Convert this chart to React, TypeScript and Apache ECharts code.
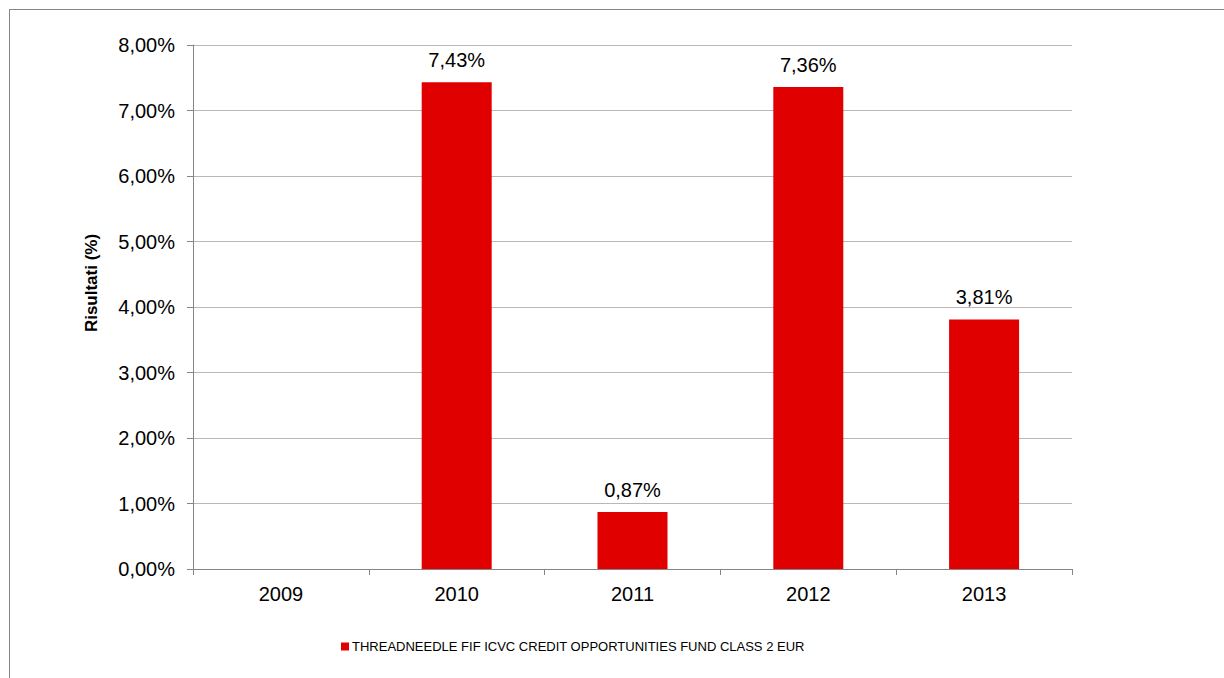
import React, { useEffect, useRef } from "react";
import * as echarts from "echarts";

const categories = ["2009", "2010", "2011", "2012", "2013"];
const values: (number | null)[] = [null, 7.43, 0.87, 7.36, 3.81];
const seriesName = "THREADNEEDLE FIF ICVC CREDIT OPPORTUNITIES FUND CLASS 2 EUR";
const yAxisTitle = "Risultati (%)";

const fmt = (v: number) => v.toFixed(2).replace(".", ",") + "%";

export default function App() {
  const ref = useRef<HTMLDivElement>(null);
  useEffect(() => {
    if (!ref.current) return;
    const chart = echarts.init(ref.current, null, { renderer: "svg" });
    const font = "'Liberation Sans', Arial, sans-serif";
    chart.setOption({
      animation: false,
      backgroundColor: "#ffffff",
      textStyle: { fontFamily: font },
      grid: { left: 193, right: 152, top: 45, bottom: 109, containLabel: false },
      legend: {
        data: [seriesName],
        left: 336,
        top: 635,
        icon: "rect",
        itemWidth: 8,
        itemHeight: 8,
        itemGap: 10,
        textStyle: { fontSize: 13, color: "#000", fontFamily: font, padding: [0, 0, 0, -2] },
      },
      xAxis: {
        type: "category",
        data: categories,
        axisLine: { lineStyle: { color: "#868686", width: 1 } },
        axisTick: { show: true, length: 6, alignWithLabel: false, lineStyle: { color: "#868686" } },
        axisLabel: { color: "#000", fontSize: 20, margin: 15, fontFamily: font },
      },
      yAxis: {
        type: "value",
        min: 0,
        max: 8,
        interval: 1,
        axisLine: { show: true, lineStyle: { color: "#868686", width: 1 } },
        axisTick: { show: true, length: 6, lineStyle: { color: "#868686" } },
        axisLabel: { color: "#000", fontSize: 20, margin: 18, fontFamily: font, formatter: (v: number) => fmt(v) },
        splitLine: { show: true, lineStyle: { color: "#b8b8b8", width: 1 } },
      },
      series: [
        {
          name: seriesName,
          type: "bar",
          data: values,
          barWidth: 70,
          itemStyle: { color: "#e00000" },
          label: {
            show: true,
            position: "top",
            distance: 12,
            color: "#000",
            fontSize: 20,
            fontFamily: font,
            formatter: (p: any) => (p.value == null ? "" : fmt(p.value)),
          },
        },
      ],
      graphic: [
        { type: "line", shape: { x1: 9, y1: 9.5, x2: 1224, y2: 9.5 }, style: { stroke: "#868686", lineWidth: 1 } },
        { type: "line", shape: { x1: 9.5, y1: 9, x2: 9.5, y2: 678 }, style: { stroke: "#868686", lineWidth: 1 } },
        {
          type: "text",
          x: 91,
          y: 283,
          rotation: Math.PI / 2,
          style: {
            text: yAxisTitle,
            fontSize: 17,
            fontWeight: "bold",
            fontFamily: font,
            fill: "#000",
            align: "center",
            verticalAlign: "middle",
          },
        },
      ],
    });
    return () => chart.dispose();
  }, []);
  return <div ref={ref} style={{ width: 1224, height: 678, position: "absolute", left: 0, top: 0 }} />;
}
